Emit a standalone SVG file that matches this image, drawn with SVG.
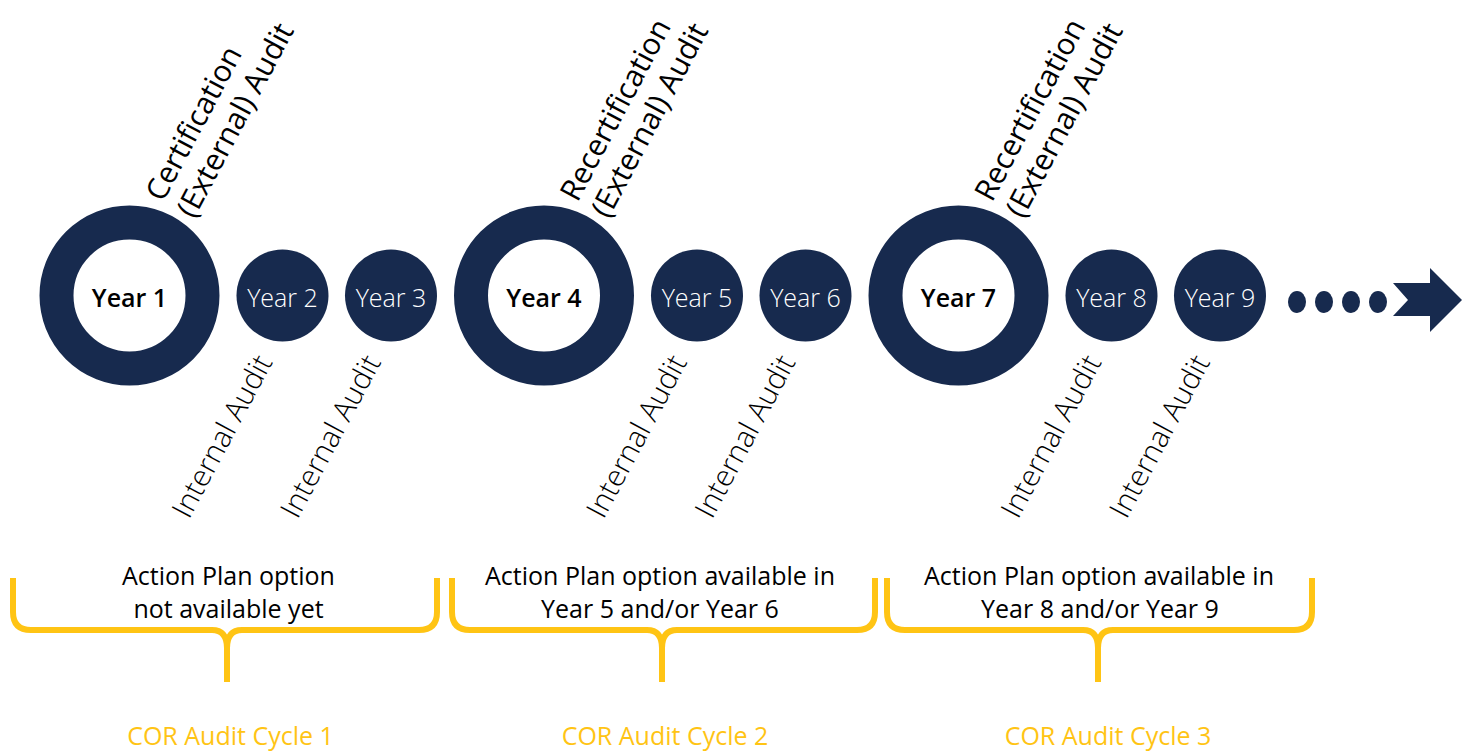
<svg xmlns="http://www.w3.org/2000/svg" width="1467" height="751" viewBox="0 0 1467 751">
<style>
.ring{fill:none;stroke:#172a4e;stroke-width:34}
.dot{fill:#172a4e}
.ylab{font-family:"Open Sans",sans-serif;font-size:25px;fill:#ffffff;font-weight:300;text-anchor:middle}
.ybig{font-family:"Open Sans",sans-serif;font-size:25px;fill:#000000;font-weight:600;text-anchor:middle}
.rot{font-family:"Open Sans",sans-serif;font-size:30px;fill:#000000}
.int{font-family:"Open Sans",sans-serif;font-size:29.5px;fill:#000000;font-weight:300}
.note{font-family:"Open Sans",sans-serif;font-size:25px;fill:#000000;text-anchor:middle}
.cyc{font-family:"Open Sans",sans-serif;font-size:25px;fill:#ffc414;text-anchor:middle}
.brace{fill:none;stroke:#ffc414;stroke-width:6}
</style>
<g id="connectors">
<g id="dots">
<ellipse class="dot" cx="1297" cy="302" rx="9" ry="11"/>
<ellipse class="dot" cx="1324" cy="302" rx="9" ry="11"/>
<ellipse class="dot" cx="1351" cy="302" rx="9" ry="11"/>
<ellipse class="dot" cx="1378" cy="302" rx="9" ry="11"/>
</g>
<polygon class="dot" points="1393,283 1430,283 1430,268 1462,300 1430,332 1430,316 1393,316 1408,300"/>
</g>
<g id="year1"><circle class="ring" cx="129.5" cy="295.5" r="73"/><text class="ybig" x="129.5" y="307">Year 1</text></g>
<g id="year2"><circle class="dot" cx="282.5" cy="295.5" r="46"/><text class="ylab" x="282.5" y="307">Year 2</text></g>
<g id="year3"><circle class="dot" cx="391" cy="295.5" r="46"/><text class="ylab" x="391" y="307">Year 3</text></g>
<g id="year4"><circle class="ring" cx="544" cy="295.5" r="73"/><text class="ybig" x="544" y="307">Year 4</text></g>
<g id="year5"><circle class="dot" cx="697" cy="295.5" r="46"/><text class="ylab" x="697" y="307">Year 5</text></g>
<g id="year6"><circle class="dot" cx="805.5" cy="295.5" r="46"/><text class="ylab" x="805.5" y="307">Year 6</text></g>
<g id="year7"><circle class="ring" cx="958.5" cy="295.5" r="73"/><text class="ybig" x="958.5" y="307">Year 7</text></g>
<g id="year8"><circle class="dot" cx="1111.5" cy="295.5" r="46"/><text class="ylab" x="1111.5" y="307">Year 8</text></g>
<g id="year9"><circle class="dot" cx="1220" cy="295.5" r="46"/><text class="ylab" x="1220" y="307">Year 9</text></g>
<g id="ext-labels">
<g transform="translate(163,203) rotate(-62)"><text class="rot" x="0" y="0">Certification</text><text class="rot" x="0" y="35">(External) Audit</text></g>
<g transform="translate(577.5,203) rotate(-62)"><text class="rot" x="0" y="0">Recertification</text><text class="rot" x="0" y="35">(External) Audit</text></g>
<g transform="translate(992,203) rotate(-62)"><text class="rot" x="0" y="0">Recertification</text><text class="rot" x="0" y="35">(External) Audit</text></g>
</g>
<g id="int-labels">
<text class="int" transform="translate(189,520) rotate(-62)">Internal Audit</text>
<text class="int" transform="translate(297.5,520) rotate(-62)">Internal Audit</text>
<text class="int" transform="translate(603.5,520) rotate(-62)">Internal Audit</text>
<text class="int" transform="translate(712,520) rotate(-62)">Internal Audit</text>
<text class="int" transform="translate(1018,520) rotate(-62)">Internal Audit</text>
<text class="int" transform="translate(1126.5,520) rotate(-62)">Internal Audit</text>
</g>
<g id="cycle1">
<path class="brace" d="M13,578 L13,612 Q13,630 31,630 L212,630 Q227,630 227,648 L227,682 M227,648 Q227,630 242,630 L419,630 Q437,630 437,612 L437,578"/>
<text class="note" x="228.5" y="585">Action Plan option</text>
<text class="note" x="228.5" y="618">not available yet</text>
<text class="cyc" x="230.5" y="745">COR Audit Cycle 1</text>
</g>
<g id="cycle2">
<path class="brace" d="M452,578 L452,612 Q452,630 470,630 L647,630 Q662,630 662,648 L662,682 M662,648 Q662,630 677,630 L857,630 Q875,630 875,612 L875,578"/>
<text class="note" x="660" y="585">Action Plan option available in</text>
<text class="note" x="660" y="618">Year 5 and/or Year 6</text>
<text class="cyc" x="665" y="745">COR Audit Cycle 2</text>
</g>
<g id="cycle3">
<path class="brace" d="M887,578 L887,612 Q887,630 905,630 L1083,630 Q1098,630 1098,648 L1098,682 M1098,648 Q1098,630 1113,630 L1294,630 Q1312,630 1312,612 L1312,578"/>
<text class="note" x="1099" y="585">Action Plan option available in</text>
<text class="note" x="1100" y="618">Year 8 and/or Year 9</text>
<text class="cyc" x="1108" y="745">COR Audit Cycle 3</text>
</g>
</svg>
